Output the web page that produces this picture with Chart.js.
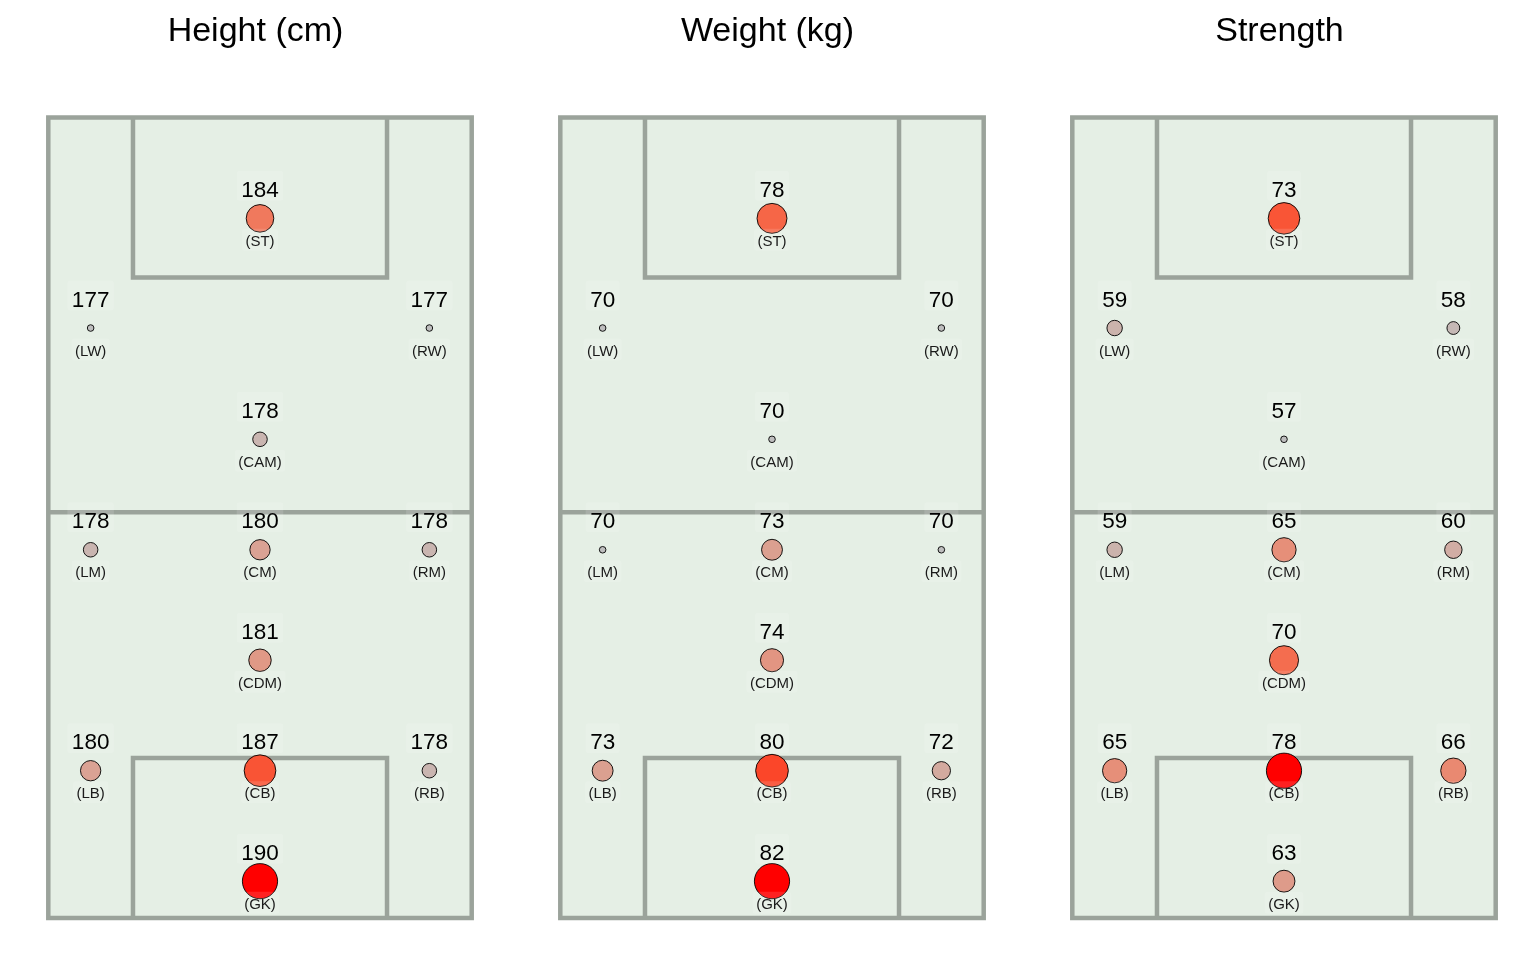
<!DOCTYPE html>
<html>
<head>
<meta charset="utf-8">
<script src="https://cdn.jsdelivr.net/npm/chart.js@4"></script>
<style>
  html, body { margin: 0; padding: 0; background: #ffffff; width: 1536px; height: 960px; overflow: hidden; }
  canvas { position: absolute; top: 0; }
</style>
</head>
<body>
<canvas id="c0" width="512" height="960" style="left:0px"></canvas>
<canvas id="c1" width="512" height="960" style="left:512px"></canvas>
<canvas id="c2" width="512" height="960" style="left:1024px"></canvas>
<script>
// ---- data ----
const titles = ['Height (cm)', 'Weight (kg)', 'Strength'];
const positions = ['ST', 'LW', 'RW', 'CAM', 'LM', 'CM', 'RM', 'CDM', 'LB', 'CB', 'RB', 'GK'];
const posX = [50, 10, 90, 50, 10, 50, 90, 50, 10, 50, 90, 50];
const posY = [87.4, 73.7, 73.7, 59.8, 46, 46, 46, 32.2, 18.4, 18.4, 18.4, 4.6];
const heightVals = [184, 177, 177, 178, 178, 180, 178, 181, 180, 187, 178, 190];
const weightVals = [78, 70, 70, 70, 70, 73, 70, 74, 73, 80, 72, 82];
const strengthVals = [73, 59, 58, 57, 59, 65, 60, 70, 65, 78, 66, 63];
const seriesList = [heightVals, weightVals, strengthVals];

// pitch markings (pitch coordinates 0..100)
const halfwayY = 50.7;
const boxX = [20, 80];
const topBoxY = [80, 100];
const bottomBoxY = [0, 20];

// ---- colour scale: grey -> red interpolated in CIELAB ----
function hexToRgb(h) { return [1, 3, 5].map(i => parseInt(h.substr(i, 2), 16)); }
function srgbToLin(c) { c /= 255; return c <= 0.04045 ? c / 12.92 : Math.pow((c + 0.055) / 1.055, 2.4); }
function linToSrgb(c) { c = c <= 0.0031308 ? 12.92 * c : 1.055 * Math.pow(c, 1 / 2.4) - 0.055; return Math.max(0, Math.min(255, Math.round(c * 255))); }
const WX = 0.95047, WY = 1.0, WZ = 1.08883;
function f(t) { return t > 216 / 24389 ? Math.cbrt(t) : (24389 / 27 * t + 16) / 116; }
function finv(t) { const t3 = t * t * t; return t3 > 216 / 24389 ? t3 : (116 * t - 16) / (24389 / 27); }
function rgbToLab(rgb) {
  const [r, g, b] = rgb.map(srgbToLin);
  const X = 0.4124564 * r + 0.3575761 * g + 0.1804375 * b;
  const Y = 0.2126729 * r + 0.7151522 * g + 0.0721750 * b;
  const Z = 0.0193339 * r + 0.1191920 * g + 0.9503041 * b;
  const fx = f(X / WX), fy = f(Y / WY), fz = f(Z / WZ);
  return [116 * fy - 16, 500 * (fx - fy), 200 * (fy - fz)];
}
function labToRgb(lab) {
  const fy = (lab[0] + 16) / 116, fx = fy + lab[1] / 500, fz = fy - lab[2] / 200;
  const X = WX * finv(fx), Y = WY * finv(fy), Z = WZ * finv(fz);
  const r = 3.2404542 * X - 1.5371385 * Y - 0.4985314 * Z;
  const g = -0.9692660 * X + 1.8760108 * Y + 0.0415560 * Z;
  const b = 0.0556434 * X - 0.2040259 * Y + 1.0572252 * Z;
  return [r, g, b].map(linToSrgb);
}
const labLow = rgbToLab(hexToRgb('#BEBEBE'));
const labHigh = rgbToLab(hexToRgb('#FF0000'));
function colourFor(t) {
  const lab = labLow.map((v, i) => v + (labHigh[i] - v) * t);
  const c = labToRgb(lab);
  return 'rgb(' + c.join(',') + ')';
}
function radiusFor(t) { return 3.3 + 14.3 * Math.sqrt(t); }

const FONT = '"Liberation Sans", Arial, Helvetica, sans-serif';

function roundRect(ctx, x, y, w, h, r) {
  ctx.beginPath();
  ctx.moveTo(x + r, y);
  ctx.lineTo(x + w - r, y); ctx.arcTo(x + w, y, x + w, y + r, r);
  ctx.lineTo(x + w, y + h - r); ctx.arcTo(x + w, y + h, x + w - r, y + h, r);
  ctx.lineTo(x + r, y + h); ctx.arcTo(x, y + h, x, y + h - r, r);
  ctx.lineTo(x, y + r); ctx.arcTo(x, y, x + r, y, r);
  ctx.closePath();
}

const pitchPlugin = {
  id: 'pitch',
  beforeDatasetsDraw(chart) {
    const ctx = chart.ctx, xs = chart.scales.x, ys = chart.scales.y;
    const X = v => xs.getPixelForValue(v), Y = v => ys.getPixelForValue(v);
    ctx.save();
    ctx.fillStyle = '#e5efe5';
    ctx.fillRect(X(0), Y(100), X(100) - X(0), Y(0) - Y(100));
    ctx.strokeStyle = '#9ba39b';
    ctx.lineWidth = 4.5;
    ctx.lineJoin = 'miter';
    ctx.strokeRect(X(0), Y(100), X(100) - X(0), Y(0) - Y(100));
    ctx.beginPath();
    ctx.moveTo(X(0), Y(halfwayY)); ctx.lineTo(X(100), Y(halfwayY));
    ctx.stroke();
    ctx.beginPath();
    ctx.moveTo(X(boxX[0]), Y(topBoxY[1])); ctx.lineTo(X(boxX[0]), Y(topBoxY[0]));
    ctx.lineTo(X(boxX[1]), Y(topBoxY[0])); ctx.lineTo(X(boxX[1]), Y(topBoxY[1]));
    ctx.stroke();
    ctx.beginPath();
    ctx.moveTo(X(boxX[0]), Y(bottomBoxY[0])); ctx.lineTo(X(boxX[0]), Y(bottomBoxY[1]));
    ctx.lineTo(X(boxX[1]), Y(bottomBoxY[1])); ctx.lineTo(X(boxX[1]), Y(bottomBoxY[0]));
    ctx.stroke();
    ctx.restore();
  },
  afterDatasetsDraw(chart) {
    const ctx = chart.ctx;
    const meta = chart.getDatasetMeta(0);
    const ds = chart.data.datasets[0];
    ctx.save();
    ctx.textAlign = 'center';
    ctx.textBaseline = 'alphabetic';
    meta.data.forEach((el, i) => {
      const d = ds.data[i];
      const x = el.x, y = el.y;
      // value label
      ctx.font = '22.5px ' + FONT;
      let txt = String(d.v);
      let w = ctx.measureText(txt).width;
      let base = y - 21.5;
      ctx.fillStyle = 'rgba(255,255,255,0.13)';
      roundRect(ctx, x - w / 2 - 4.5, base - 26, w + 9, 30, 3);
      ctx.fill();
      ctx.fillStyle = '#000000';
      ctx.fillText(txt, x, base);
      // position label
      ctx.font = '15px ' + FONT;
      txt = '(' + d.pos + ')';
      w = ctx.measureText(txt).width;
      base = y + 27.5;
      ctx.fillStyle = 'rgba(255,255,255,0.13)';
      roundRect(ctx, x - w / 2 - 3.5, base - 17, w + 7, 22, 3);
      ctx.fill();
      ctx.fillStyle = '#1a1a1a';
      ctx.fillText(txt, x, base);
    });
    ctx.restore();
  },
  afterDraw(chart) {
    const ctx = chart.ctx, a = chart.chartArea;
    ctx.save();
    ctx.font = '34px ' + FONT;
    ctx.fillStyle = '#000000';
    ctx.textAlign = 'center';
    ctx.textBaseline = 'alphabetic';
    ctx.fillText(chart.options.plugins.pitchTitle, (a.left + a.right) / 2 - 4.5, 41);
    ctx.restore();
  }
};

seriesList.forEach((vals, k) => {
  const vmin = Math.min(...vals), vmax = Math.max(...vals);
  const tOf = v => (v - vmin) / (vmax - vmin);
  const pts = positions.map((p, i) => ({ x: posX[i], y: posY[i], v: vals[i], pos: p }));
  new Chart(document.getElementById('c' + k), {
    type: 'bubble',
    data: {
      datasets: [{
        data: pts,
        backgroundColor: c => colourFor(tOf(c.raw.v)),
        radius: c => radiusFor(tOf(c.raw.v)),
        borderColor: '#000000',
        borderWidth: 0.9,
        clip: false
      }]
    },
    options: {
      responsive: false,
      animation: false,
      events: [],
      layout: { padding: { left: 48.3, right: 40.3, top: 117.5, bottom: 42 } },
      scales: {
        x: { type: 'linear', min: 0, max: 100, display: false },
        y: { type: 'linear', min: 0, max: 100, display: false }
      },
      plugins: {
        legend: { display: false },
        tooltip: { enabled: false },
        title: { display: false },
        pitchTitle: titles[k]
      }
    },
    plugins: [pitchPlugin]
  });
});
</script>
</body>
</html>
